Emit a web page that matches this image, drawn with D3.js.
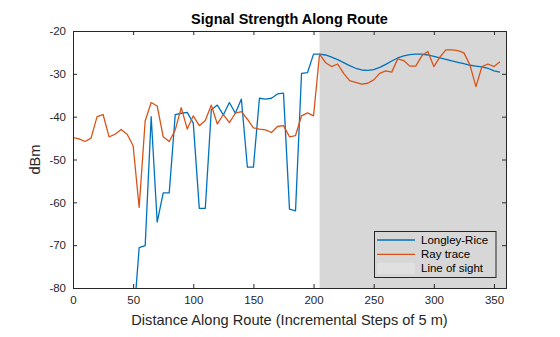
<!DOCTYPE html>
<html><head><meta charset="utf-8">
<script src="https://cdn.jsdelivr.net/npm/d3@7"></script>
<style>body{margin:0;background:#fff;} svg{display:block;font-family:"Liberation Sans",Arial,sans-serif;}</style>
</head><body><svg id="c" width="560" height="337"></svg>
<script>
const distance = d3.range(0, 360, 5);
const rayTrace = [-44.9,-45.2,-45.8,-45.0,-40.0,-39.5,-44.7,-44.1,-43.0,-44.1,-46.8,-61.2,-41.0,-36.7,-37.5,-44.7,-45.8,-43.1,-37.9,-42.9,-39.8,-42.1,-40.9,-37.3,-41.7,-39.5,-41.4,-39.2,-38.8,-40.6,-42.6,-42.9,-43.1,-43.7,-42.3,-42.1,-44.7,-44.4,-39.8,-39.1,-39.8,-25.4,-27.4,-28.3,-27.7,-29.9,-31.6,-32.0,-32.4,-32.2,-31.4,-29.9,-29.3,-29.6,-26.5,-26.9,-28.2,-28.2,-25.8,-24.8,-28.3,-26.1,-24.4,-24.4,-24.6,-25.1,-27.9,-33.0,-28.3,-27.7,-28.3,-27.2];
const longleyRice = [null,null,null,null,null,null,null,null,null,null,-89,-70.6,-70.1,-40.0,-64.6,-57.8,-57.8,-39.5,-39.2,-39.0,-41.5,-61.4,-61.4,-38.4,-37.3,-39.6,-36.7,-39.2,-35.9,-51.8,-51.8,-35.7,-35.9,-35.7,-34.7,-34.5,-61.6,-62.0,-29.9,-29.7,-25.4,-25.4,-25.6,-26.1,-26.7,-27.4,-28.1,-28.7,-29.1,-29.2,-29.0,-28.5,-27.8,-27.0,-26.3,-25.8,-25.5,-25.4,-25.4,-25.6,-25.9,-26.3,-26.6,-27.0,-27.3,-27.6,-28.0,-28.2,-28.4,-28.7,-29.3,-29.6];
const losStart = 205, losEnd = 360;
const xTicks = [0,50,100,150,200,250,300,350];
const yTicks = [-80,-70,-60,-50,-40,-30,-20];
const seriesNames = ["Longley-Rice","Ray trace","Line of sight"];

const L=73, R=506, T=31, B=288;
const svg = d3.select("#c");
const x = d3.scaleLinear().domain([0,360]).range([L,R]);
const y = d3.scaleLinear().domain([-80,-20]).range([B,T]);
const ax = "#262626";

svg.append("defs").append("clipPath").attr("id","clip").append("rect")
  .attr("x",L).attr("y",T).attr("width",R-L).attr("height",B-T);

svg.append("rect").attr("x",x(losStart)).attr("y",T).attr("width",x(losEnd)-x(losStart)).attr("height",B-T).attr("fill","#d7d7d7");

const g = svg.append("g").attr("clip-path","url(#clip)");
const line = d3.line().defined(d=>d[1]!==null).x(d=>x(d[0])).y(d=>y(d[1]));
g.append("path").datum(distance.map((d,i)=>[d,longleyRice[i]])).attr("d",line)
  .attr("fill","none").attr("stroke","#0072BD").attr("stroke-width",1.3).attr("stroke-linejoin","round");
g.append("path").datum(distance.map((d,i)=>[d,rayTrace[i]])).attr("d",line)
  .attr("fill","none").attr("stroke","#D95319").attr("stroke-width",1.3).attr("stroke-linejoin","round");

// axes
const xa = svg.append("g").attr("transform",`translate(0,${B})`).call(d3.axisBottom(x).tickValues(xTicks).tickSize(-4).tickPadding(8));
const xt = svg.append("g").attr("transform",`translate(0,${T})`).call(d3.axisTop(x).tickValues(xTicks).tickSize(-4).tickFormat(""));
const ya = svg.append("g").attr("transform",`translate(${L},0)`).call(d3.axisLeft(y).tickValues(yTicks).tickSize(-4).tickPadding(7));
const yr = svg.append("g").attr("transform",`translate(${R},0)`).call(d3.axisRight(y).tickValues(yTicks).tickSize(-4).tickFormat(""));
[xa,xt,ya,yr].forEach(a=>{
  a.select(".domain").attr("stroke",ax).attr("stroke-width",1);
  a.selectAll(".tick line").attr("stroke",ax);
  a.selectAll("text").attr("fill",ax).style("font-size","11.5px").style("font-family","Liberation Sans, Arial, sans-serif");
});
xa.selectAll("text").attr("dy","0.71em");
ya.selectAll("text").text(d=>d<0?"-"+Math.abs(d):d);

svg.append("text").attr("x",(L+R)/2).attr("y",24).attr("text-anchor","middle")
  .attr("font-weight","bold").attr("font-size","14.5px").attr("fill","#000").text("Signal Strength Along Route");
svg.append("text").attr("x",(L+R)/2).attr("y",325).attr("text-anchor","middle")
  .attr("font-size","14.6px").attr("fill",ax).text("Distance Along Route (Incremental Steps of 5 m)");
svg.append("text").attr("transform",`translate(40,${(T+B)/2}) rotate(-90)`).attr("text-anchor","middle")
  .attr("font-size","14.6px").attr("fill",ax).text("dBm");

// legend
const lg = svg.append("g");
lg.append("rect").attr("x",374.5).attr("y",231.5).attr("width",121.5).attr("height",46).attr("fill","#d7d7d7").attr("stroke",ax).attr("stroke-width",1);
const rows=[240,254.3,268.3];
lg.append("line").attr("x1",377).attr("x2",415).attr("y1",rows[0]).attr("y2",rows[0]).attr("stroke","#0072BD").attr("stroke-width",1.3);
lg.append("line").attr("x1",377).attr("x2",415).attr("y1",rows[1]).attr("y2",rows[1]).attr("stroke","#D95319").attr("stroke-width",1.3);
lg.append("rect").attr("x",377).attr("y",263).attr("width",38).attr("height",11).attr("fill","#e0e0e0");
seriesNames.forEach((n,i)=>lg.append("text").attr("x",421).attr("y",rows[i]).attr("dy","0.35em").attr("font-size","11.5px").attr("fill","#000").text(n));
</script></body></html>
